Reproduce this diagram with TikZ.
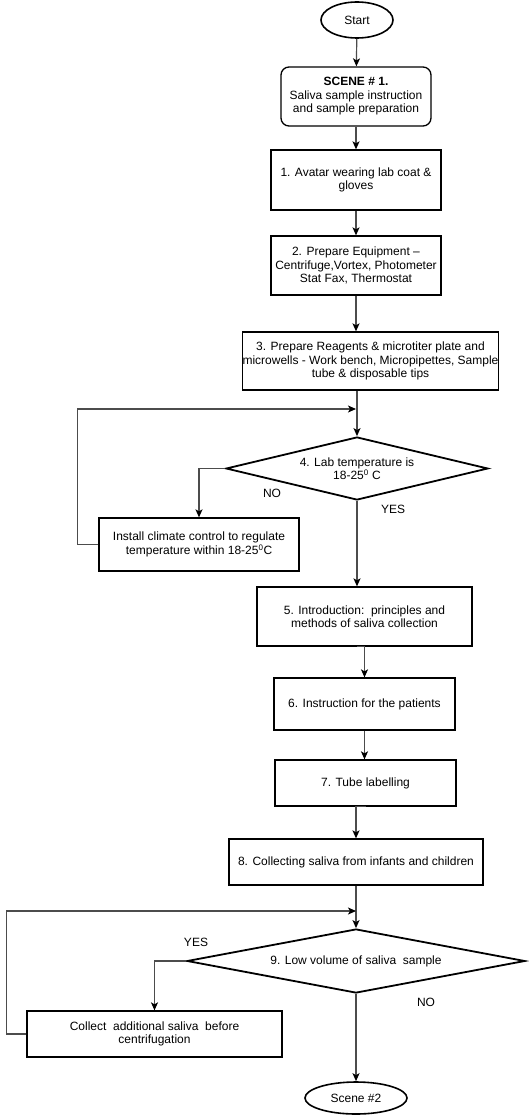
\documentclass[tikz,border=0pt]{standalone}
\usepackage{fontspec}
\setmainfont{Liberation Sans}
\usetikzlibrary{shapes.geometric,arrows.meta}

\begin{document}
\begin{tikzpicture}[x=1pt,y=-1pt,
  every node/.style={font=\fontsize{12}{13.5}\selectfont},
  box/.style={draw,line width=1.3pt,inner sep=0pt,align=center},
  rbox/.style={box,rounded corners=8pt},
  term/.style={draw,ellipse,line width=1.6pt,inner sep=0pt},
  decision/.style={draw,diamond,line width=1.8pt,inner sep=0pt,align=center},
  arr/.style={draw=black!70,line width=1.2pt,
    -{Stealth[length=8pt,width=7pt,inset=2pt,color=black]}},
  lbl/.style={inner sep=0pt}
]
\useasboundingbox (0,0) rectangle (528,1115);

% terminals
\node[term,minimum width=72pt,minimum height=36pt] (start) at (357,20) {Start};
\node[term,minimum width=102pt,minimum height=32pt] (stop) at (356,1098) {Scene \#2};

% process steps
\node[rbox,minimum width=150pt,minimum height=59pt] (scene) at (356,96.5)
  {\textbf{SCENE \# 1.}\\Saliva sample instruction\\and sample preparation};
\node[box,minimum width=170pt,minimum height=60pt] (b1) at (356,180)
  {1. Avatar wearing lab coat \&\\gloves};
\node[box,minimum width=170pt,minimum height=59pt] (b2) at (356,265.5)
  {2. Prepare Equipment --\\Centrifuge,Vortex, Photometer\\Stat Fax, Thermostat};
\node[box,minimum width=247pt,minimum height=58pt] (b3) at (370.5,361)
  {3. Prepare Reagents \& microtiter plate and\\microwells - Work bench, Micropipettes, Sample\\tube \& disposable tips};
\node[decision,aspect=4.16,minimum width=262pt,minimum height=63pt] (d4) at (357,468.5)
  {4. Lab temperature is\\18-25\textsuperscript{0} C};
\node[box,minimum width=200pt,minimum height=53pt] (climate) at (199,544.5)
  {Install climate control to regulate\\temperature within 18-25\textsuperscript{0}C};
\node[box,minimum width=215pt,minimum height=59pt] (b5) at (364.5,616.5)
  {5. Introduction:\ \ principles and\\methods of saliva collection};
\node[box,minimum width=181pt,minimum height=52pt] (b6) at (364.5,704)
  {6. Instruction for the patients};
\node[box,minimum width=181pt,minimum height=46pt] (b7) at (365.5,783)
  {7. Tube labelling};
\node[box,minimum width=254pt,minimum height=46pt] (b8) at (356,862)
  {8. Collecting saliva from infants and children};
\node[decision,aspect=5.28,minimum width=338pt,minimum height=64pt] (d9) at (356,961)
  {9. Low volume of saliva\ \ sample};
\node[box,minimum width=255pt,minimum height=46pt] (collect) at (154.5,1034)
  {Collect\ \ additional saliva\ \ before\\centrifugation};

% branch labels
\node[lbl] (no4) at (272,493) {NO};
\node[lbl] (yes4) at (393,509) {YES};
\node[lbl] (yes9) at (196,942) {YES};
\node[lbl] (no9) at (426,1002) {NO};

% loop merge points
\coordinate (m4) at (356,409);
\coordinate (m9) at (356,911);

% connectors
\draw[arr] (start) -- (scene);
\draw[arr] (scene) -- (b1);
\draw[arr] (b1) -- (b2);
\draw[arr] (b2.south) -- (b2.south |- b3.north);
\draw[arr] (d4.north |- b3.south) -- (d4.north);
\draw[arr] (d4.west) -| (climate.north);
\draw[arr] (climate.west) -- ++(-21,0) |- (m4);
\draw[arr] (d4.south) -- (d4.south |- b5.north);
\draw[arr] (b5.south -| d4.south) -| (b6.north);
\draw[arr] (b6.south) -- (b6.south |- b7.north);
\draw[arr] (b7.south) -| (b8.north);
\draw[arr] (b8.south) -- (d9.north);
\draw[arr] (d9.west) -| (collect.north);
\draw[arr] (collect.west) -- ++(-19.5,0) |- (m9);
\draw[arr] (d9.south) -- (stop.north);
\end{tikzpicture}
\end{document}
